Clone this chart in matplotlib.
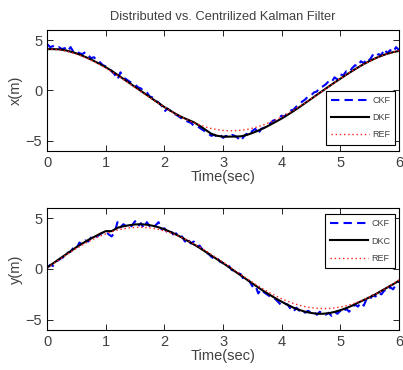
import numpy as np
import matplotlib
matplotlib.use("Agg")
import matplotlib.pyplot as plt

plt.rcParams['font.family'] = ['Liberation Sans', 'DejaVu Sans']

# time axes
t_ref = np.round(np.arange(0, 6.001, 0.1), 2)
t_ckf = np.round(np.arange(0, 6.001, 0.05), 2)

# x position
x_ref = [4.10, 4.08, 4.02, 3.92, 3.78, 3.60, 3.38, 3.14, 2.86, 2.55, 2.21, 1.86, 1.48, 1.09, 0.70,
         0.29, -0.12, -0.52, -0.91, -1.29, -1.66, -2.02, -2.36, -2.66, -2.95, -3.20, -3.43, -3.62,
         -3.77, -3.88, -3.96, -4.00, -3.99, -3.95, -3.87, -3.74, -3.59, -3.39, -3.16, -2.90, -2.62,
         -2.30, -1.96, -1.60, -1.23, -0.84, -0.45, -0.05, 0.36, 0.77, 1.16, 1.55, 1.92, 2.27, 2.60,
         2.91, 3.18, 3.42, 3.63, 3.80, 3.94]
x_dkf = [4.10, 4.10, 4.08, 4.00, 3.85, 3.68, 3.45, 3.20, 2.92, 2.62, 2.30, 1.95, 1.55, 1.15, 0.75,
         0.35, -0.05, -0.45, -0.85, -1.25, -1.65, -2.00, -2.35, -2.65, -2.90, -3.15, -3.50, -3.90,
         -4.30, -4.50, -4.58, -4.58, -4.57, -4.55, -4.42, -4.22, -3.98, -3.72, -3.42, -3.10, -2.78,
         -2.42, -2.05, -1.66, -1.25, -0.85, -0.43, -0.03, 0.38, 0.78, 1.17, 1.55, 1.92, 2.28, 2.62,
         2.92, 3.20, 3.44, 3.64, 3.80, 3.92]
x_ckf = [4.6, 4.3, 4.4, 4.2, 4.3, 4.1, 4.2, 3.9, 4.3, 3.8, 3.9, 3.7, 3.6, 3.8, 3.5, 3.2, 3.3, 2.9,
         2.8, 2.5, 2.4, 2.2, 1.9, 1.6, 1.1, 1.8, 1.3, 1.1, 0.9, 0.7, 0.6, 0.3, 0.2, -0.1, -0.2, -0.6,
         -0.7, -1.0, -1.2, -1.5, -2.1, -1.8, -2.0, -2.3, -2.4, -2.6, -2.8, -2.9, -3.1, -3.2, -3.5,
         -3.5, -3.7, -3.9, -4.1, -4.3, -4.5, -4.4, -4.6, -4.4, -4.7, -4.5, -4.6, -4.4, -4.5, -4.7,
         -5.0, -4.6, -4.3, -4.5, -4.0, -3.8, -4.3, -3.8, -3.7, -3.4, -3.3, -3.0, -2.9, -2.7, -2.5,
         -2.6, -2.2, -2.0, -1.9, -1.6, -1.4, -1.1, -0.9, -0.6, -0.5, -0.2, -0.1, 0.3, 0.4, 0.6, 0.9,
         0.8, 1.3, 1.1, 1.6, 1.5, 1.9, 1.8, 2.2, 2.5, 2.4, 2.9, 2.7, 3.2, 3.0, 3.5, 3.3, 3.6, 3.5,
         4.1, 3.7, 4.0, 3.8, 4.3, 4.0]

# y position
y_ref = [0.10, 0.50, 0.90, 1.28, 1.66, 2.02, 2.36, 2.68, 2.97, 3.23, 3.46, 3.66, 3.83, 3.95, 4.04,
         4.09, 4.10, 4.07, 4.00, 3.89, 3.74, 3.55, 3.33, 3.07, 2.79, 2.48, 2.15, 1.80, 1.43, 1.05,
         0.66, 0.27, -0.13, -0.53, -0.92, -1.30, -1.67, -2.02, -2.35, -2.65, -2.93, -3.17, -3.39,
         -3.56, -3.70, -3.80, -3.86, -3.89, -3.88, -3.83, -3.74, -3.61, -3.45, -3.25, -3.02, -2.75,
         -2.46, -2.14, -1.80, -1.45, -1.08]
y_dkf = [0.15, 0.55, 0.95, 1.35, 1.75, 2.15, 2.50, 2.85, 3.15, 3.45, 3.72, 3.72, 4.05, 4.20, 4.30,
         4.38, 4.40, 4.35, 4.25, 4.10, 3.90, 3.65, 3.38, 3.08, 2.75, 2.42, 2.08, 1.70, 1.32, 0.95,
         0.58, 0.18, -0.22, -0.62, -1.02, -1.42, -1.82, -2.20, -2.55, -2.90, -3.22, -3.52, -3.80,
         -4.02, -4.20, -4.32, -4.40, -4.40, -4.35, -4.22, -4.05, -3.85, -3.60, -3.32, -3.05, -2.78,
         -2.48, -2.15, -1.82, -1.50, -1.15]
y_ckf = [0.1, 0.4, 0.3, 0.7, 0.9, 1.1, 1.2, 1.6, 1.7, 2.1, 2.0, 2.6, 2.4, 2.8, 2.7, 3.1, 3.0, 3.2,
         3.4, 3.6, 3.7, 3.4, 3.2, 3.6, 4.6, 4.1, 4.4, 4.2, 4.0, 4.3, 4.7, 4.2, 4.5, 4.0, 4.6, 4.2,
         4.0, 4.3, 4.6, 3.9, 4.0, 3.6, 3.8, 3.4, 3.5, 3.1, 3.2, 2.7, 3.0, 2.5, 2.7, 2.2, 2.3, 1.9,
         1.6, 1.5, 1.2, 1.0, 1.1, 0.7, 0.6, 0.2, 0.3, -0.1, -0.2, -0.4, -0.5, -1.0, -1.1, -1.2,
         -1.7, -1.6, -2.4, -2.0, -2.3, -2.5, -2.7, -2.8, -3.0, -3.3, -3.6, -3.4, -3.5, -3.9, -4.2,
         -3.8, -4.1, -4.0, -4.3, -4.1, -4.3, -4.2, -4.5, -4.2, -4.4, -4.5, -4.3, -4.6, -4.2, -4.4,
         -4.1, -4.3, -3.9, -4.2, -3.8, -3.5, -3.7, -3.3, -3.6, -2.9, -3.0, -2.6, -2.7, -2.3, -2.5,
         -2.1, -2.2, -1.8, -2.0, -1.5, -1.2]

text_col = '#404040'

fig = plt.figure(figsize=(4.03, 3.70), dpi=100)
ax1 = fig.add_axes([0.117, 0.592, 0.873, 0.327])
ax2 = fig.add_axes([0.117, 0.108, 0.873, 0.330])


def draw(ax, ckf, dkf, ref, labels, ylabel, loc, anchor):
    ax.plot(t_ckf, ckf, color='#0000ff', linestyle=(0, (4, 2.5)), linewidth=1.5, label=labels[0])
    ax.plot(t_ref, dkf, color='black', linewidth=1.5, label=labels[1])
    ax.plot(t_ref, ref, color='#ff2020', linestyle=(0, (1, 2)), linewidth=1.0, label=labels[2])
    ax.set_xlim(0, 6)
    ax.set_ylim(-6, 6)
    ax.set_xticks([0, 1, 2, 3, 4, 5, 6])
    ax.set_yticks([-5, 0, 5])
    ax.tick_params(direction='in', top=True, right=True, labelsize=10.5,
                   labelcolor=text_col, length=4, width=0.6)
    for s in ax.spines.values():
        s.set_linewidth(0.8)
    ax.set_xlabel('Time(sec)', fontsize=10.5, color=text_col, labelpad=0)
    ax.set_ylabel(ylabel, fontsize=10.5, color=text_col, labelpad=2)
    leg = ax.legend(loc=loc, bbox_to_anchor=anchor, fontsize=6.5, handlelength=4.2,
                    fancybox=False, edgecolor='black', framealpha=1, borderpad=0.6,
                    labelspacing=0.9, handletextpad=0.3, borderaxespad=0)
    leg.get_frame().set_linewidth(0.8)
    for txt in leg.get_texts():
        txt.set_color(text_col)


draw(ax1, x_ckf, x_dkf, x_ref, ['CKF', 'DKF', 'REF'], 'x(m)', 'lower right', (0.99, 0.05))
draw(ax2, y_ckf, y_dkf, y_ref, ['CKF', 'DKC', 'REF'], 'y(m)', 'upper right', (0.99, 0.95))

ax1.set_title('Distributed vs. Centrilized Kalman Filter', fontsize=9.3, color=text_col, pad=7)

fig.savefig('out.png', dpi=100)
